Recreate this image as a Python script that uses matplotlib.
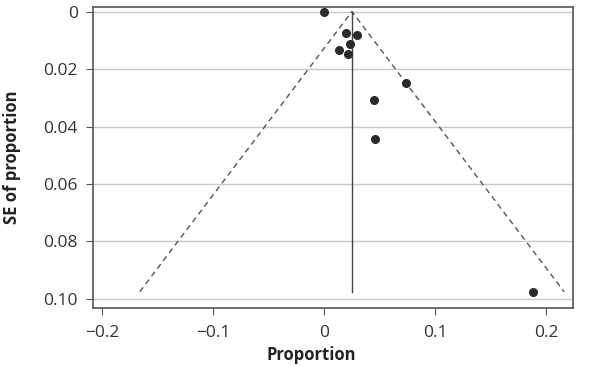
import matplotlib as mpl
mpl.use('Agg')
import matplotlib.pyplot as plt

plt.rcParams['font.family'] = ['Open Sans', 'DejaVu Sans']

# study estimates
proportion = [0.000, 0.0195, 0.030, 0.0237, 0.0138, 0.0216, 0.0739, 0.0447, 0.046, 0.1877]
se = [0.000, 0.0075, 0.008, 0.0114, 0.0135, 0.0146, 0.0248, 0.0306, 0.0443, 0.0976]

pooled = 0.025
seMax = 0.0975
xticks = [-0.2, -0.1, 0, 0.1, 0.2]
xtickLabels = ['\u22120.2', '\u22120.1', '0', '0.1', '0.2']
yticks = [0, 0.02, 0.04, 0.06, 0.08, 0.10]
ytickLabels = ['0', '0.02', '0.04', '0.06', '0.08', '0.10']

fig = plt.figure(figsize=(5.9, 3.66), dpi=100)
ax = fig.add_axes([0.158, 0.158, 0.813, 0.823])

for y in yticks:
    ax.axhline(y, color='#c8c8c8', lw=1.0, zorder=0)

# funnel limits
ax.plot([pooled - 1.96 * seMax, pooled, pooled + 1.96 * seMax], [seMax, 0, seMax],
        ls=(0, (4, 3)), color='#555555', lw=1.0)
ax.plot([pooled, pooled], [0, seMax], color='#444444', lw=1.0)

ax.plot(proportion, se, 'o', color='#2b2b2b', markersize=5.5, zorder=3)

ax.set_xlim(-0.208, 0.224)
ax.set_ylim(0.1032, -0.0016)
ax.set_xticks(xticks)
ax.set_xticklabels(xtickLabels)
ax.set_yticks(yticks)
ax.set_yticklabels(ytickLabels)
ax.tick_params(direction='out', length=5, colors='#555555', labelcolor='#333333', labelsize=12.5)
ax.tick_params(axis='y', pad=6)
ax.tick_params(axis='x', pad=7)
for s in ax.spines.values():
    s.set_color('#555555')
    s.set_linewidth(1.2)

ax.set_xlabel('Proportion', fontweight='bold', fontsize=12, color='#222222', labelpad=3)
ax.xaxis.set_label_coords(0.455, -0.125)
ax.set_ylabel('SE of proportion', fontweight='bold', fontsize=12, color='#222222')
ax.yaxis.set_label_coords(-0.15, 0.5)

plt.savefig('out.png', dpi=100)
